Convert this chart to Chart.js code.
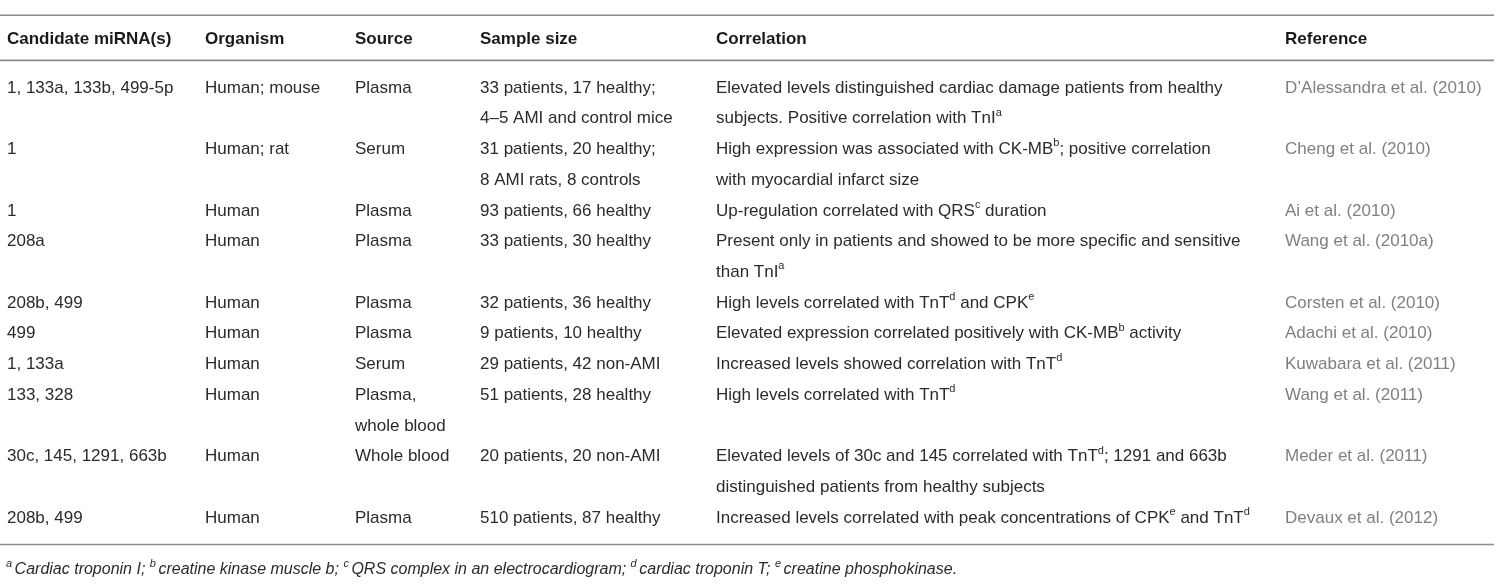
<!DOCTYPE html>
<html>
<head>
<meta charset="utf-8">
<script src="https://cdn.jsdelivr.net/npm/chart.js@4.4.1/dist/chart.umd.min.js"></script>
<style>
  html, body { margin: 0; padding: 0; background: #fff; }
  canvas { display: block; }
</style>
</head>
<body>
<canvas id="tableChart" width="1500" height="585"></canvas>
<script>
// table content, one entry per study ("\n" = line break, "^x" = superscript)
const headers = ["Candidate miRNA(s)", "Organism", "Source", "Sample size", "Correlation", "Reference"];
const candidates = ["1, 133a, 133b, 499-5p", "1", "1", "208a", "208b, 499", "499", "1, 133a", "133, 328", "30c, 145, 1291, 663b", "208b, 499"];
const organisms = ["Human; mouse", "Human; rat", "Human", "Human", "Human", "Human", "Human", "Human", "Human", "Human"];
const sources = ["Plasma", "Serum", "Plasma", "Plasma", "Plasma", "Plasma", "Serum", "Plasma,\nwhole blood", "Whole blood", "Plasma"];
const sampleSizes = [
    "33 patients, 17 healthy;\n4–5 AMI and control mice",
    "31 patients, 20 healthy;\n8 AMI rats, 8 controls",
    "93 patients, 66 healthy",
    "33 patients, 30 healthy",
    "32 patients, 36 healthy",
    "9 patients, 10 healthy",
    "29 patients, 42 non-AMI",
    "51 patients, 28 healthy",
    "20 patients, 20 non-AMI",
    "510 patients, 87 healthy",
];
const correlations = [
    "Elevated levels distinguished cardiac damage patients from healthy\nsubjects. Positive correlation with TnI^a",
    "High expression was associated with CK-MB^b; positive correlation\nwith myocardial infarct size",
    "Up-regulation correlated with QRS^c duration",
    "Present only in patients and showed to be more specific and sensitive\nthan TnI^a",
    "High levels correlated with TnT^d and CPK^e",
    "Elevated expression correlated positively with CK-MB^b activity",
    "Increased levels showed correlation with TnT^d",
    "High levels correlated with TnT^d",
    "Elevated levels of 30c and 145 correlated with TnT^d; 1291 and 663b\ndistinguished patients from healthy subjects",
    "Increased levels correlated with peak concentrations of CPK^e and TnT^d",
];
const references = ["D’Alessandra et al. (2010)", "Cheng et al. (2010)", "Ai et al. (2010)", "Wang et al. (2010a)", "Corsten et al. (2010)", "Adachi et al. (2010)", "Kuwabara et al. (2011)", "Wang et al. (2011)", "Meder et al. (2011)", "Devaux et al. (2012)"];
const footnote = "^aCardiac troponin I; ^bcreatine kinase muscle b; ^cQRS complex in an electrocardiogram; ^dcardiac troponin T; ^ecreatine phosphokinase.";

const columns = [candidates, organisms, sources, sampleSizes, correlations, references];

// layout (pixel units on the x scale, text-line units on the y scale)
const colX = [7, 205, 355, 480, 716, 1285];
const headerLine = -1.57;
const ruleLines = [-2.37, -0.9, 14.86];
const footLine = 15.68;

// build one point per text line: x = column left edge, y = line slot
let cellPoints = [];
let slot = 0;
for (let r = 0; r < candidates.length; r++) {
    let rowLines = 1;
    columns.forEach((col, c) => {
        const lines = col[r].split("\n");
        rowLines = Math.max(rowLines, lines.length);
        lines.forEach((txt, k) => {
            cellPoints.push({ x: colX[c], y: slot + k, text: txt, ref: c === 5 });
        });
    });
    slot += rowLines;
}
const headerPoints = headers.map((h, c) => ({ x: colX[c], y: headerLine, text: h }));

const FONT = "'Liberation Sans', Arial, sans-serif";

// draws text with "^x" superscripts starting at (x, y)
function drawRich(ctx, str, x, y, size, weight, style, supGap) {
    const parts = str.split(/\^([a-e])/);
    for (let i = 0; i < parts.length; i++) {
        if (!parts[i]) continue;
        if (i % 2 === 1) {
            ctx.font = style + " " + weight + " " + Math.round(size * 0.66) + "px " + FONT;
            ctx.fillText(parts[i], x, y - size * 0.36);
            x += supGap || 0;
        } else {
            ctx.font = style + " " + weight + " " + size + "px " + FONT;
            ctx.fillText(parts[i], x, y);
        }
        x += ctx.measureText(parts[i]).width;
    }
}

const tablePlugin = {
    id: "tablePlugin",
    afterDatasetsDraw(chart) {
        const ctx = chart.ctx;
        const xs = chart.scales.x, ys = chart.scales.y;
        ctx.save();
        // horizontal rules
        ctx.strokeStyle = "#8a8a8a";
        ctx.lineWidth = 1.6;
        ruleLines.forEach(l => {
            const py = ys.getPixelForValue(l);
            ctx.beginPath();
            ctx.moveTo(xs.getPixelForValue(0), py);
            ctx.lineTo(xs.getPixelForValue(1494), py);
            ctx.stroke();
        });
        ctx.textBaseline = "middle";
        // header and cells, placed at the points' positions
        chart.data.datasets.forEach((ds, di) => {
            const meta = chart.getDatasetMeta(di);
            meta.data.forEach((el, i) => {
                const p = ds.data[i];
                if (di === 0) {
                    ctx.fillStyle = "#1a1a1a";
                    drawRich(ctx, p.text, el.x, el.y, 17, "bold", "normal");
                } else {
                    ctx.fillStyle = p.ref ? "#808080" : "#2b2b2b";
                    drawRich(ctx, p.text, el.x, el.y, 17, "normal", "normal");
                }
            });
        });
        ctx.fillStyle = "#2b2b2b";
        drawRich(ctx, footnote, xs.getPixelForValue(6), ys.getPixelForValue(footLine), 16, "normal", "italic", 2.5);
        ctx.restore();
    },
};

let tableCan = document.getElementById("tableChart").getContext("2d");
var tableChart = new Chart(tableCan, {
    type: "scatter",
    data: {
        datasets: [{
            label: "header",
            data: headerPoints,
            pointRadius: 0,
        }, {
            label: "cells",
            data: cellPoints,
            pointRadius: 0,
        }, ],
    },
    options: {
        responsive: false,
        animation: false,
        devicePixelRatio: 1,
        layout: { padding: 0 },
        scales: {
            x: { type: "linear", display: false, min: 0, max: 1500 },
            y: { type: "linear", display: false, reverse: true, min: -2.865, max: 16.18 },
        },
        plugins: {
            legend: { display: false },
            tooltip: { enabled: false },
        },
    },
    plugins: [tablePlugin],
});
</script>
</body>
</html>
